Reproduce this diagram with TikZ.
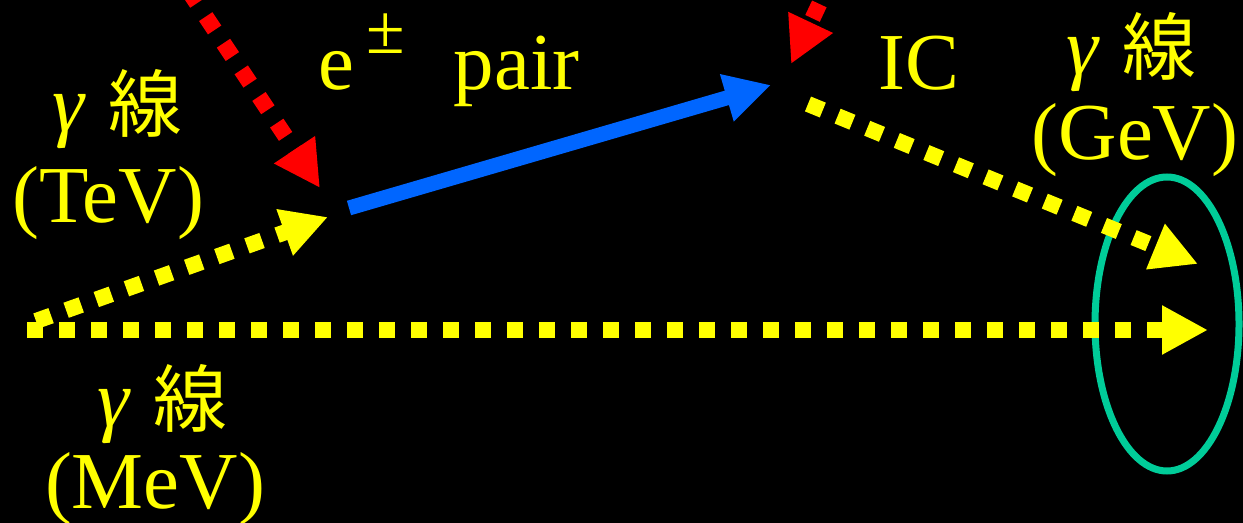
\documentclass[tikz,border=0pt]{standalone}
\usepackage{fontspec}
\setmainfont{Liberation Serif}
\newfontfamily\cjk{Noto Sans CJK JP}
\usetikzlibrary{arrows.meta}
\definecolor{rayyellow}{RGB}{255,255,0}
\definecolor{pairblue}{RGB}{0,102,255}
\definecolor{ringgreen}{RGB}{0,204,153}
\newcommand{\gline}{{\itshape γ}\hspace{0.3em}{\cjk\fontsize{42}{50}\selectfont 線}}

\begin{document}
\begin{tikzpicture}[x=0.02cm,y=-0.02cm,
  photon/.style={rayyellow,line width=3.2mm,dash pattern=on 3.2mm off 3.2mm,-{Triangle[length=9.2mm,width=9.2mm]}},
  target/.style={red,line width=3.2mm,dash pattern=on 3.2mm off 3.2mm,-{Triangle[length=9.2mm,width=9.2mm]}},
  lepton/.style={pairblue,line width=3mm,-{Triangle[length=9.2mm,width=9.2mm]}},
  lab/.style={text=rayyellow,font=\fontsize{46}{54}\selectfont,inner sep=0pt,anchor=base}]
\useasboundingbox (0,0) rectangle (1243,523);
\clip (0,0) rectangle (1243,523);
\fill[black] (0,0) rectangle (1243,523);

\coordinate (redin) at (188,-10);
\coordinate (redhit) at (320,188);
\coordinate (redin2) at (833,-25);
\coordinate (redhit2) at (791,64);
\coordinate (tevin) at (36,321);
\coordinate (tevhit) at (328,217);
\coordinate (pairout) at (349,208);
\coordinate (icpt) at (771,85);
\coordinate (icout) at (808,104);
\coordinate (gevend) at (1198,264);
\coordinate (mevin) at (27,330);
\coordinate (mevend) at (1208,330);

\draw[ringgreen,line width=1.4mm] (1167,324) ellipse (72 and 147);

\draw[target] (redin) -- (redhit);
\draw[target] (redin2) -- (redhit2);
\draw[photon] (tevin) -- (tevhit);
\draw[lepton] (pairout) -- (icpt);
\draw[photon] (icout) -- (gevend);
\draw[photon] (mevin) -- (mevend);

\node[lab] (tevgam) at (117,132) {\gline};
\node[lab] (tevlab) at (108,223) {(TeV)};
\node[lab] (pairlab) at (449,90) {e\hspace{0.15em}\raisebox{0.45em}{\fontsize{40}{40}\selectfont ±}\hspace{0.6em}pair};
\node[lab] (iclab) at (919,90) {IC};
\node[lab] (gevgam) at (1131,75) {\gline};
\node[lab] (gevlab) at (1135,160) {(GeV)};
\node[lab] (mevgam) at (162,426) {\gline};
\node[lab] (mevlab) at (155,508) {(MeV)};
\end{tikzpicture}
\end{document}
